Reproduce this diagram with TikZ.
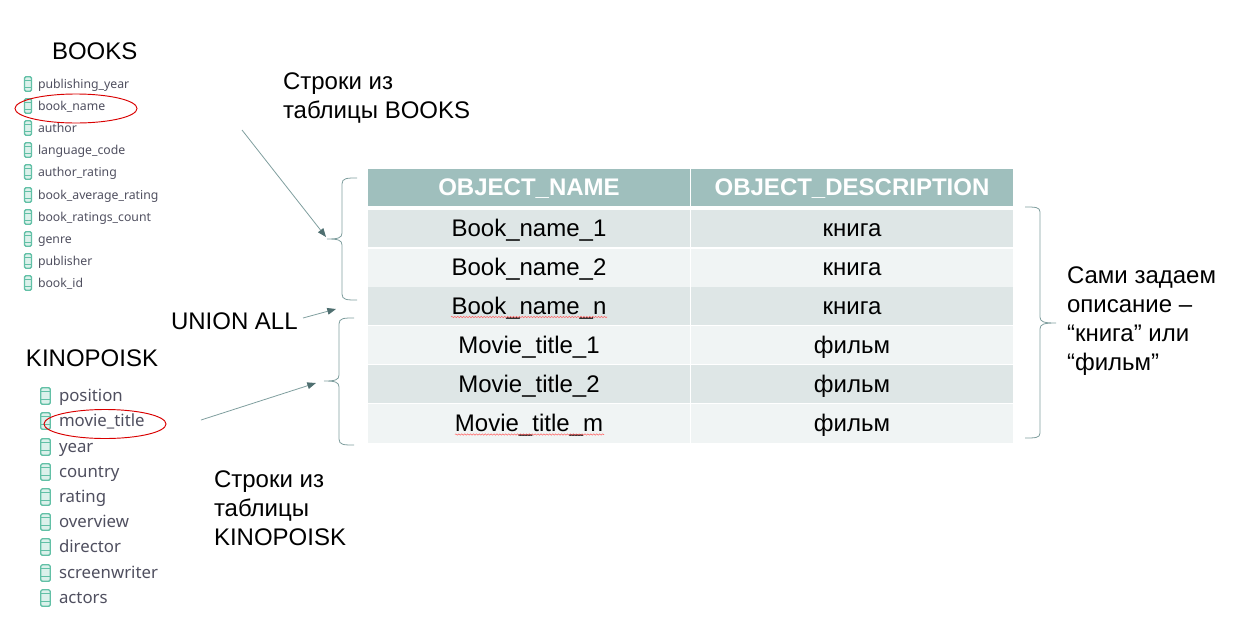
\documentclass[tikz,border=0pt]{standalone}
\usepackage{fontspec}
\setmainfont{Liberation Sans}
\newfontfamily\fieldfont{Noto Sans}
\usetikzlibrary{arrows.meta,decorations.pathmorphing,shapes.geometric}
\definecolor{hdr}{HTML}{9FBFBD}
\definecolor{rowa}{HTML}{DEE6E6}
\definecolor{rowb}{HTML}{F0F4F4}
\definecolor{connc}{HTML}{7F9E9E}
\definecolor{tipc}{HTML}{4F6F70}
\definecolor{iconc}{HTML}{62C0A6}
\definecolor{fieldtxt}{HTML}{4F4F5F}
\tikzset{
 x=0.75pt,y=-0.75pt,
 every node/.style={inner sep=0pt,outer sep=0pt},
 label18/.style={font=\fontsize{18}{21.8}\selectfont,align=left,anchor=north west,text=black},
 cellbase/.style={minimum width=322*0.75pt,text height=14.3pt,text depth=2pt},
 hcell/.style={cellbase,fill=hdr,text=white,font=\fontsize{18}{21}\selectfont\bfseries},
 cella/.style={cellbase,fill=rowa,text=black,font=\fontsize{18}{21}\selectfont},
 cellb/.style={cellbase,fill=rowb,text=black,font=\fontsize{18}{21}\selectfont},
 field/.style={anchor=base west,text=fieldtxt,font=\fieldfont\fontsize{9.2}{11}\selectfont},
 kfield/.style={anchor=base west,text=fieldtxt,font=\fieldfont\fontsize{12.6}{15}\selectfont},
 connp/.style={draw=connc,line width=0.6pt,-{Triangle[length=6.5pt,width=5pt,fill=tipc,color=tipc]}},
 bracep/.style={draw=connc,line width=0.6pt,line join=round},
 redring/.style={draw=red!85!black,line width=0.7pt,shape=ellipse,minimum width=122*0.75pt,minimum height=29*0.75pt},
 spell/.style={draw=red!60,line width=0.4pt,decorate,decoration={snake,amplitude=0.5pt,segment length=2.2pt}},
 icn/.style={draw=iconc,line width=1pt,rounded corners=1pt,fill=iconc!22},
}
\newcommand{\cylicon}[4]{% x, y, half-width, half-height
 \draw[icn] (#1-#3,#2-#4) rectangle (#1+#3,#2+#4);
 \draw[draw=iconc,line width=0.8pt] (#1-#3,#2-#4*0.5) -- (#1+#3,#2-#4*0.5) (#1-#3,#2+#4*0.45) -- (#1+#3,#2+#4*0.45);
}
\newcommand{\tabrow}[6]{% name, style, ymid, height, text1, text2
 \node[#2,minimum height=#4*0.75pt] (#1a) at (529,#3) {#5};
 \node[#2,minimum height=#4*0.75pt] (#1b) at (852,#3) {#6};
}
\begin{document}
\begin{tikzpicture}
\useasboundingbox (0,0) rectangle (1239,622);
% titles
\node[label18,anchor=base west] (booksT) at (52,59) {BOOKS};
\node[label18,anchor=base west] (kinoT) at (26,366) {KINOPOISK};
% books fields
\foreach \y/\t/\n in {84/publishing\_year/1,106/book\_name/2,128/author/3,150/language\_code/4,172/author\_rating/5,195/book\_average\_rating/6,217/book\_ratings\_count/7,239/genre/8,261/publisher/9,283/book\_id/10}{
 \cylicon{28}{\y}{3.5}{7.2}
 \node[field] (bf\n) at (38,\y+4) {\t};
}
% kinopoisk fields
\foreach \y/\t/\n in {396/position/1,421/movie\_title/2,447/year/3,472/country/4,497/rating/5,522/overview/6,547/director/7,573/screenwriter/8,598/actors/9}{
 \cylicon{45.5}{\y}{4.7}{8.2}
 \node[kfield] (kf\n) at (59,\y+5) {\t};
}
\node[redring] (ringB) at (76,108.5) {};
\node[redring] (ringK) at (105,424) {};
% table
\tabrow{h}{hcell}{187.5}{37}{OBJECT\_NAME}{OBJECT\_DESCRIPTION}
\tabrow{ra}{cella}{228.5}{37.4}{Book\_name\_1}{книга}
\tabrow{rb}{cellb}{267.5}{38}{Book\_name\_2}{книга}
\tabrow{rc}{cella}{306}{38}{Book\_name\_n}{книга}
\tabrow{rd}{cellb}{345}{38}{Movie\_title\_1}{фильм}
\tabrow{re}{cella}{384}{38}{Movie\_title\_2}{фильм}
\tabrow{rf}{cellb}{423.5}{39}{Movie\_title\_m}{фильм}
% spell-check underlines
\draw[spell] (451,317) -- (607,317);
\draw[spell] (455,434.5) -- (604,434.5);
% labels
\node[label18] (lblB) at (283,73) {Строки из\\таблицы BOOKS};
\node[label18,anchor=base west] (lblU) at (171,329) {UNION ALL};
\node[label18] (lblK) at (214,471) {Строки из\\таблицы\\KINOPOISK};
\node[label18] (lblR) at (1067,266.5) {Сами задаем\\описание –\\“книга” или\\“фильм”};
% braces
\coordinate (tipA) at (327,239);
\coordinate (tipB) at (324,381);
\coordinate (tipC) at (1056,323);
\coordinate (startA) at (242,130);
\coordinate (endA) at (326,237);
\coordinate (startU) at (303,318);
\coordinate (endU) at (336,309);
\coordinate (startK) at (201,420);
\coordinate (endK) at (316,383);
\draw[bracep] (357,178) .. controls (347,178) and (342,178) .. (342,184) -- (342,233) .. controls (342,238) and (338,239) .. (tipA) (tipA) .. controls (338,239) and (342,240) .. (342,245) -- (342,294) .. controls (342,300) and (347,300) .. (357,300);
\draw[bracep] (354,318) .. controls (344,318) and (339,318) .. (339,324) -- (339,375) .. controls (339,380) and (335,381) .. (tipB) (tipB) .. controls (335,381) and (339,382) .. (339,387) -- (339,439) .. controls (339,445) and (344,445) .. (354,445);
\draw[bracep] (1025,207) .. controls (1035,207) and (1040,207) .. (1040,212) -- (1040,317) .. controls (1040,322) and (1044,323) .. (tipC) (tipC) .. controls (1044,323) and (1040,324) .. (1040,329) -- (1040,433) .. controls (1040,438) and (1035,438) .. (1025,438);
% connectors
\draw[connp] (startA) -- (endA);
\draw[connp] (startU) -- (endU);
\draw[connp] (startK) -- (endK);
\end{tikzpicture}
\end{document}
